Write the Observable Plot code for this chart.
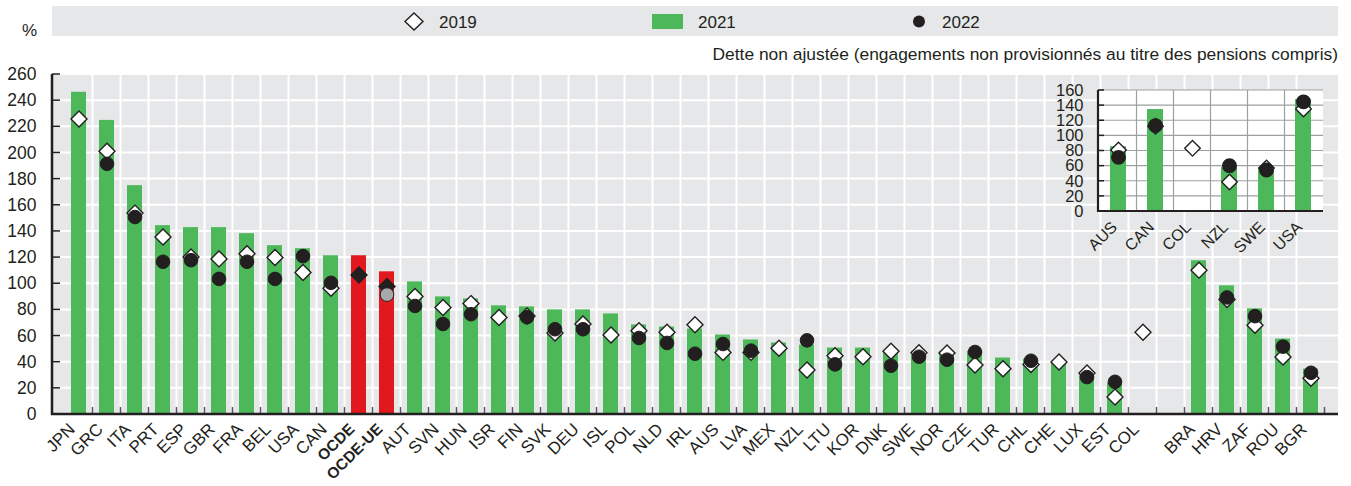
<!DOCTYPE html>
<html>
<head>
<meta charset="utf-8">
<script src="https://cdn.jsdelivr.net/npm/d3@7"></script>
<script src="https://cdn.jsdelivr.net/npm/@observablehq/plot@0.6"></script>
<style>
  body { margin: 0; background: #fff; }
</style>
</head>
<body>
<div id="wrap"></div>
<script>
// ---------- data ----------
const gapKey = " ";
const categories = ["JPN","GRC","ITA","PRT","ESP","GBR","FRA","BEL","USA","CAN","OCDE","OCDE-UE","AUT","SVN","HUN","ISR","FIN","SVK","DEU","ISL","POL","NLD","IRL","AUS","LVA","MEX","NZL","LTU","KOR","DNK","SWE","NOR","CZE","TUR","CHL","CHE","LUX","EST","COL"," ","BRA","HRV","ZAF","ROU","BGR"];
const debt2021 = [246.4,224.9,175,144.4,142.9,142.9,138.3,129.1,126.8,121.4,121.4,109.1,101.4,89.9,88.4,83.1,82.3,80,80,76.9,68.5,66.9,65.4,60.8,57,54.7,53.1,50.8,50.8,48.3,48.3,48.3,48.3,43.2,42.2,40.1,31.9,24.2,null,null,117.6,98.4,80.8,57.7,34.7];
const debt2019 = [225.9,201.4,154,135.7,120.4,119,122.9,120,108.6,96.6,106.6,97.9,90.2,81.8,84.8,74.1,75.4,62.3,69.2,60.8,64.1,62.9,68.7,47.5,47.5,50.6,34,45,44.2,48.3,47.2,47,37.8,35,38.3,40.1,31.7,13.3,62.9,null,110.4,88,68.3,44,27.8];
const debt2022 = [null,191.7,151,116.8,118,103.7,116.8,103.7,121.1,100.7,null,91.7,83,69.2,76.7,null,74.4,65.2,65.2,null,58.5,54.7,46.5,53.9,48.8,null,56.7,38.3,null,37.3,44.2,41.9,47.8,null,41.1,null,28.6,25,null,null,null,89.5,75.2,51.9,31.9];
const highlight = ["OCDE","OCDE-UE"];
const yTicks = [0,20,40,60,80,100,120,140,160,180,200,220,240,260];

const insetCategories = ["AUS","CAN","COL","NZL","SWE","USA"];
const inset2021 = [85.7,134.8,null,58.3,57.5,148];
const inset2019 = [81.3,112.7,83.5,38.9,57.5,135.7];
const inset2022 = [71.6,113.6,null,60.6,54.8,145];
const insetTicks = [0,20,40,60,80,100,120,140,160];

const legendLabels = ["2019","2021","2022"];
const subtitle = "Dette non ajustée (engagements non provisionnés au titre des pensions compris)";
const unitLabel = "%";

// ---------- colours ----------
const GREEN = "#4cb85a", RED = "#e2181f", BG = "#e6e7e8", INK = "#231f20", GREY_DOT = "#a7a9ac";
const FONT = '"Liberation Sans", Arial, sans-serif';

const rows = categories.map((c, i) => ({c, v19: debt2019[i], v21: debt2021[i], v22: debt2022[i]}));
const insetRows = insetCategories.map((c, i) => ({c, v19: inset2019[i], v21: inset2021[i], v22: inset2022[i]}));

// single render mark under the bars: background, band-boundary and horizontal gridlines (via the library's scales)
function panel(o) {
  return (index, scales, values, dims) => {
    const x = scales.x, y = scales.y;
    const dom = x.domain(), step = x.step(), bw = x.bandwidth();
    const left = dims.marginLeft, right = dims.width - dims.marginRight;
    const top = dims.marginTop, bottom = dims.height - dims.marginBottom;
    const g = d3.create("svg:g");
    g.append("rect").attr("x", left).attr("y", top).attr("width", right - left).attr("height", bottom - top).attr("fill", o.bg);
    dom.slice(1).forEach(c => {
      const px = x(c) - (step - bw) / 2;
      g.append("line").attr("x1", px).attr("x2", px).attr("y1", top).attr("y2", bottom)
        .attr("stroke", o.grid).attr("stroke-width", o.gridWidth);
    });
    o.ticks.forEach(v => {
      g.append("line").attr("x1", left).attr("x2", right).attr("y1", y(v)).attr("y2", y(v))
        .attr("stroke", o.grid).attr("stroke-width", o.gridWidth);
    });
    return g.node();
  };
}
// axis lines and inward ticks, added after rendering through the plot's exposed scales
function decorate(plotSvg, o) {
  const xs = plotSvg.scale("x"), ys = plotSvg.scale("y");
  const bw = typeof xs.bandwidth === "function" ? xs.bandwidth() : xs.bandwidth;
  const step = typeof xs.step === "function" ? xs.step() : xs.step;
  const dom = xs.domain;
  const left = Math.min(...xs.range), right = Math.max(...xs.range);
  const top = Math.min(...ys.range), bottom = Math.max(...ys.range);
  const g = d3.select(plotSvg).append("g");
  const edges = dom.map(c => xs.apply(c) - (step - bw) / 2);
  edges.push(xs.apply(dom[dom.length - 1]) + bw + (step - bw) / 2);
  if (o.xTick) edges.slice(1).forEach(px => {
    g.append("line").attr("x1", px).attr("x2", px).attr("y1", bottom - o.xTick).attr("y2", bottom)
      .attr("stroke", "#555").attr("stroke-width", 1.5);
  });
  o.ticks.forEach(v => {
    g.append("line").attr("x1", left).attr("x2", left + o.yTick).attr("y1", ys.apply(v)).attr("y2", ys.apply(v))
      .attr("stroke", INK).attr("stroke-width", 1.5);
  });
  g.append("line").attr("x1", left).attr("x2", left).attr("y1", top).attr("y2", bottom + 1)
    .attr("stroke", INK).attr("stroke-width", o.axisWidth);
  g.append("line").attr("x1", left - 1).attr("x2", right).attr("y1", bottom).attr("y2", bottom)
    .attr("stroke", INK).attr("stroke-width", o.axisWidth);
}

const main = Plot.plot({
  width: 1351, height: 486,
  marginLeft: 52, marginRight: 13, marginTop: 74, marginBottom: 72,
  style: {fontFamily: FONT, color: INK},
  x: {domain: categories, paddingInner: 0.45, paddingOuter: 0.225, label: null},
  y: {domain: [0, 260], label: null},
  marks: [
    panel({bg: BG, grid: "#fff", gridWidth: 2, ticks: yTicks}),
    Plot.barY(rows.filter(d => d.v21 != null && !highlight.includes(d.c)), {x: "c", y: "v21", fill: GREEN}),
    Plot.barY(rows.filter(d => d.v21 != null && highlight.includes(d.c)), {x: "c", y: "v21", fill: RED}),
    Plot.dot(rows.filter(d => d.v19 != null), {x: "c", y: "v19", symbol: "diamond2", r: 7.2,
      fill: d => highlight.includes(d.c) ? INK : "#fff", stroke: INK, strokeWidth: 1.4}),
    Plot.dot(rows.filter(d => d.v22 != null), {x: "c", y: "v22", r: 6.8,
      fill: d => highlight.includes(d.c) ? GREY_DOT : INK, stroke: INK, strokeWidth: 1}),
    Plot.axisY(yTicks, {tickSize: 0, tickPadding: 16, fontSize: 17.5, fill: INK}),
    Plot.axisX({tickSize: 0, tickPadding: 12, dx: -7, tickRotate: -45, fontSize: 17, fill: INK,
      tickFormat: d => d === gapKey ? "" : d})
  ]
});
decorate(main, {ticks: yTicks, xTick: 7, yTick: 8, axisWidth: 2.5});
main.querySelectorAll("text").forEach(t => {
  if (highlight.includes(t.textContent.trim())) {
    t.setAttribute("font-weight", "bold");
    t.setAttribute("font-size", "15.5");
  }
});

// inset chart, drawn by a second Plot and then placed inside the main SVG
const inset = Plot.plot({
  width: 285, height: 175,
  marginLeft: 48, marginRight: 12, marginTop: 10, marginBottom: 44,
  style: {fontFamily: FONT, color: INK},
  x: {domain: insetCategories, paddingInner: 0.58, paddingOuter: 0.29, label: null},
  y: {domain: [0, 160], label: null},
  marks: [
    panel({bg: "#fff", grid: "#9d9fa2", gridWidth: 1.2, ticks: insetTicks}),
    Plot.barY(insetRows.filter(d => d.v21 != null), {x: "c", y: "v21", fill: GREEN}),
    Plot.dot(insetRows.filter(d => d.v19 != null), {x: "c", y: "v19", symbol: "diamond2", r: 7,
      fill: "#fff", stroke: INK, strokeWidth: 1.4}),
    Plot.dot(insetRows.filter(d => d.v22 != null), {x: "c", y: "v22", r: 6.7, fill: INK, stroke: INK}),
    Plot.axisY(insetTicks, {tickSize: 0, tickPadding: 15, fontSize: 16.5, fill: INK}),
    Plot.axisX({tickSize: 0, tickPadding: 13, dx: -4, tickRotate: -45, fontSize: 16, fill: INK})
  ]
});
decorate(inset, {ticks: insetTicks, xTick: 0, yTick: 6, axisWidth: 2.2});

const svg = d3.select(main);
const ig = svg.append("g").attr("transform", "translate(1050,80)")
  .attr("fill", "currentColor").attr("font-family", FONT).attr("font-size", 10).attr("text-anchor", "middle");
Array.from(inset.childNodes).forEach(n => {
  if (n.nodeName.toLowerCase() !== "style") ig.node().appendChild(n);
});

// legend, unit and subtitle (inside the same SVG, above the plot area)
const lg = svg.append("g").attr("font-family", FONT).attr("font-size", 17).attr("fill", INK);
lg.append("rect").attr("x", 52).attr("y", 6).attr("width", 1286).attr("height", 30).attr("fill", BG);
lg.append("polygon").attr("points", "414,13 423,21.5 414,30 405,21.5").attr("fill", "#fff").attr("stroke", INK).attr("stroke-width", 1.4);
lg.append("rect").attr("x", 652).attr("y", 14).attr("width", 31).attr("height", 15).attr("fill", GREEN);
lg.append("circle").attr("cx", 919).attr("cy", 21.5).attr("r", 6).attr("fill", INK);
lg.append("text").attr("x", 439).attr("y", 27.5).attr("text-anchor", "start").text(legendLabels[0]);
lg.append("text").attr("x", 698).attr("y", 27.5).attr("text-anchor", "start").text(legendLabels[1]);
lg.append("text").attr("x", 942).attr("y", 27.5).attr("text-anchor", "start").text(legendLabels[2]);
lg.append("text").attr("x", 22).attr("y", 36).attr("text-anchor", "start").text(unitLabel);
lg.append("text").attr("x", 1338).attr("y", 59.5).attr("text-anchor", "end").attr("font-size", 17.4).text(subtitle);

document.getElementById("wrap").appendChild(main);
</script>
</body>
</html>
